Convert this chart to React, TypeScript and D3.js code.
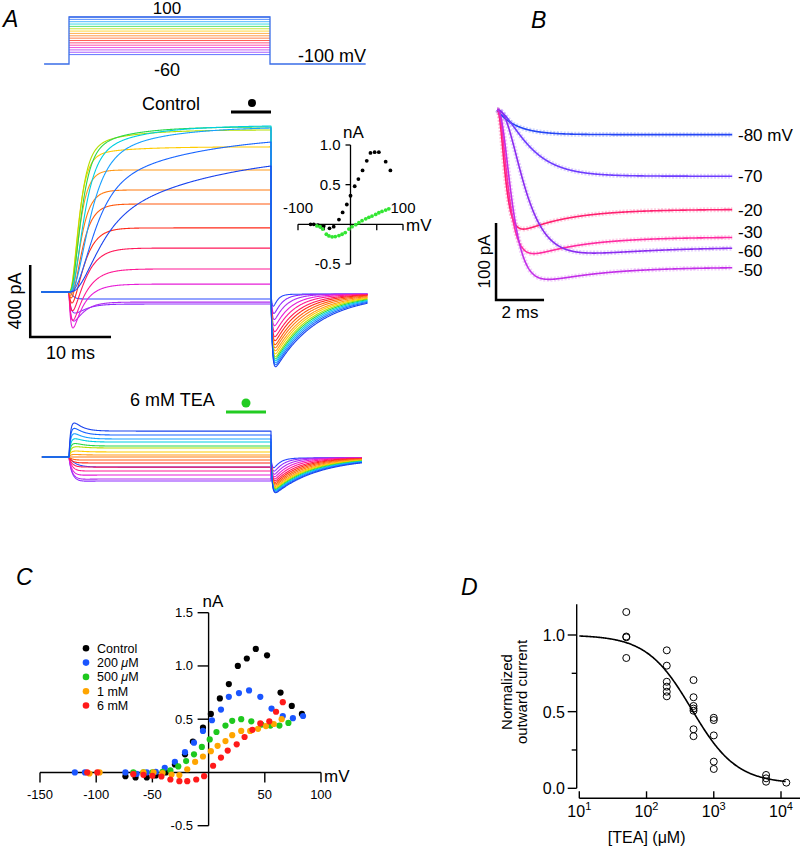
import React from 'react';
import * as d3 from 'd3';

const FONT = "'Liberation Sans', Arial, Helvetica, sans-serif";

// ---------------- Panel A : protocol + traces ----------------
const stepVoltages = [-60, -50, -40, -30, -20, -10, 0, 10, 20, 30, 40, 50, 60, 70, 80, 90, 100];
const stepColors = ['#2a48ff', '#8f2cff', '#b02cf0', '#e61fd8', '#ff1a96', '#ff1a5a', '#ff2a1a', '#ff5a10', '#ff7a10', '#ff9a1a', '#ffcc00', '#b4e000', '#2ad84a', '#00cfe0', '#18a0ff', '#1a66ff', '#1a44ee'];

// control: steady current at end of step (pA), kinetics (ms)
const ctrlSS = [-39, -67, -56, 44, 128, 244, 356, 489, 567, 678, 806, 900, 917, 922, 911, 833, 700];
const ctrlSlowFrac = [0, 0, 0, 0, 0, 0, 0, 0, 0, 0, 0.08, 0.15, 0.2, 0.25, 0.3, 0.4, 0.6];
const ctrlTauFast = [0.3, 0.6, 0.6, 1.8, 1.6, 1.4, 1.2, 1.0, 0.9, 0.8, 0.75, 0.8, 0.9, 1.1, 1.5, 1.8, 2.0];
const ctrlTauSlow = [6, 6, 6, 6, 6, 6, 6, 6, 6, 6, 5, 5, 5, 6, 7, 12, 14];
const ctrlTransient = [0, 100, 150, 200, 160, 110, 70, 45, 30, 15, 0, 0, 0, 0, 0, 0, 0];
const ctrlTailPeak = [72, 111, 144, 178, 211, 239, 261, 283, 300, 317, 333, 350, 361, 372, 383, 394, 405];
const ctrlTailTau = [0.5, 1.0, 1.5, 2.0, 2.4, 2.8, 3.1, 3.4, 3.7, 4.0, 4.2, 4.4, 4.6, 4.8, 5.0, 5.2, 5.4];

// 6 mM TEA
const teaSS = [-56, -133, -122, -100, -78, -56, -33, -17, 0, 11, 28, 50, 61, 83, 100, 122, 144];
const teaTau = [0.8, 0.5, 0.5, 0.45, 0.4, 0.4, 0.4, 0.4, 0.4, 0.4, 0.4, 0.4, 0.35, 0.35, 0.3, 0.3, 0.3];
const teaOvershoot = [0, -25, -25, -15, 0, 0, 0, 0, 0, 10, 20, 30, 45, 60, 80, 100, 120];
const teaTailPeak = [56, 75, 92, 106, 118, 128, 137, 145, 152, 159, 165, 171, 176, 181, 185, 190, 194];
const teaTailTau = [0.8, 1.2, 1.6, 2.0, 2.4, 2.8, 3.1, 3.4, 3.7, 4.0, 4.2, 4.4, 4.6, 4.8, 5.0, 5.2, 5.4];

// inset I-V (nA vs mV)
const insetCtrlV = [-76, -70, -62, -57, -51, -40, -32, -22, -15, -7, 0, 8, 15, 23, 31, 38, 46, 54, 67, 76];
const insetCtrlI = [0.0, 0.0, -0.01, -0.03, -0.02, -0.05, -0.03, 0.06, 0.15, 0.25, 0.36, 0.48, 0.57, 0.68, 0.8, 0.9, 0.91, 0.91, 0.79, 0.68];
const insetTeaV = [-64, -58, -53, -46, -41, -35, -29, -22, -16, -10, -3, 3, 10, 16, 22, 29, 35, 41, 48, 54, 60, 67, 73];
const insetTeaI = [-0.02, -0.03, -0.06, -0.125, -0.146, -0.158, -0.154, -0.142, -0.125, -0.104, -0.06, -0.03, -0.004, 0.02, 0.046, 0.07, 0.088, 0.104, 0.125, 0.146, 0.163, 0.18, 0.196];

// ---------------- Panel B : fits ----------------
const bLabels = ['-80 mV', '-70', '-20', '-30', '-60', '-50'];
const bIss = [-32, -86, -129, -165, -178, -204];
const bExtra = [0, 0, -50, -50, -40, -45];
const bTauAct = [0.8, 1.0, 0.22, 0.3, 0.75, 0.4];
const bPower = [1, 2, 3, 3, 3, 3];
const bTauInact = [1, 1, 2, 2.2, 3, 2.5];
const bColors = ['#2446f5', '#6e3cff', '#ff2070', '#ff2aa0', '#8a2cf0', '#c22ee8'];

// ---------------- Panel C : I-V ----------------
const cSeries = ['Control', '200 μM', '500 μM', '1 mM', '6 mM'];
const cColors = ['#000000', '#1a55ff', '#1ec81e', '#ffa500', '#ff1a1a'];
const ivControlV = [-74, -65, -55, -47, -38, -30, -21, -14, -5, 2, 10, 18, 26, 34, 42, 52, 64, 74, 83];
const ivControlI = [-0.035, -0.047, -0.047, -0.028, 0.0, 0.075, 0.17, 0.29, 0.42, 0.55, 0.695, 0.83, 1.0, 1.07, 1.16, 1.1, 0.75, 0.625, 0.55];
const iv200V = [-119, -110, -74, -64, -55, -47, -39, -30, -21, -13, -5, 3, 11, 18, 27, 36, 46, 56, 66, 75, 84];
const iv200I = [0, 0, 0, -0.013, 0, 0.006, 0.044, 0.1, 0.19, 0.28, 0.39, 0.49, 0.59, 0.71, 0.745, 0.77, 0.71, 0.6, 0.53, 0.51, 0.53];
const iv500V = [-67, -58, -50, -41, -34, -27, -20, -13, -6, 1, 7, 15, 21, 29, 38, 47, 55, 63, 71];
const iv500I = [0, 0, 0, 0.006, 0.019, 0.057, 0.107, 0.17, 0.24, 0.31, 0.38, 0.44, 0.485, 0.5, 0.48, 0.45, 0.44, 0.44, 0.465];
const iv1mV = [-106, -97, -58, -49, -41, -33, -26, -19, -12, -5, 2, 8, 15, 21, 29, 37, 44, 51, 58, 65];
const iv1mI = [-0.01, 0, 0, 0, -0.006, -0.02, -0.025, 0.03, 0.1, 0.15, 0.2, 0.25, 0.295, 0.35, 0.39, 0.39, 0.41, 0.435, 0.455, 0.5];
const iv6mV = [-108, -99, -67, -58, -50, -42, -34, -26, -19, -11, -4, 4, 11, 17, 25, 32, 39, 46, 54, 60, 66];
const iv6mI = [0, 0, -0.016, -0.022, -0.031, -0.038, -0.066, -0.082, -0.082, -0.066, -0.035, 0.063, 0.14, 0.205, 0.264, 0.333, 0.4, 0.46, 0.48, 0.57, 0.66];
const cXTicks = [-150, -100, -50, 0, 50, 100];
const cYTicks = [-0.5, 0, 0.5, 1.0, 1.5];

// ---------------- Panel D : dose-response ----------------
const doseConc = [50, 50, 50, 50, 200, 200, 200, 200, 200, 200, 500, 500, 500, 500, 500, 500, 500, 1000, 1000, 1000, 1000, 1000, 6000, 6000, 6000, 12000];
const doseValue = [1.15, 0.99, 0.985, 0.85, 0.9, 0.8, 0.695, 0.663, 0.63, 0.6, 0.706, 0.594, 0.537, 0.52, 0.506, 0.385, 0.34, 0.46, 0.445, 0.345, 0.174, 0.126, 0.087, 0.065, 0.043, 0.037];
const hillIC50 = 470;
const hillN = 1.3;
const hillBottom = 0.03;
const dXTicks = [10, 100, 1000, 10000];
const dYMajor = [0, 0.5, 1.0];
const dYMinor = [0.25, 0.75];

// ---------------- helpers ----------------
function biexpNorm(u: number, tau: number, rise: number) {
  const f = (x: number) => Math.exp(-x / tau) - Math.exp(-x / rise);
  const tp = (Math.log(tau / rise) * tau * rise) / (tau - rise);
  return f(u) / f(tp);
}

function ctrlI(i: number, t: number) {
  if (t <= 0) return 0;
  if (t <= 25) {
    const act = Math.pow(1 - Math.exp(-t / ctrlTauFast[i]), 3);
    const ts = ctrlTauSlow[i];
    const slow = (1 - Math.exp(-t / ts)) / (1 - Math.exp(-25 / ts));
    const w = ctrlSlowFrac[i];
    const out = ctrlSS[i] * ((1 - w) * act + w * slow * act);
    const inw = ctrlTransient[i] > 0 ? -ctrlTransient[i] * biexpNorm(t, 1.2, 0.25) : 0;
    return out + inw;
  }
  const u = t - 25;
  return -ctrlTailPeak[i] * biexpNorm(u, ctrlTailTau[i], 0.15) - 12 * (1 - Math.exp(-u / 0.3));
}

function teaI(i: number, t: number) {
  if (t <= 0) return 0;
  if (t <= 25) {
    return teaSS[i] * (1 - Math.exp(-t / teaTau[i])) + teaOvershoot[i] * (Math.exp(-t / 1.0) - Math.exp(-t / 0.15));
  }
  const u = t - 25;
  return -teaTailPeak[i] * biexpNorm(u, teaTailTau[i], 0.15) - 5 * (1 - Math.exp(-u / 0.3));
}

function timeGrid(t0: number, t1: number) {
  return [
    ...d3.range(t0, 0, 0.1),
    ...d3.range(0, 25.0001, 0.05),
    ...d3.range(25.001, t1, 0.05),
  ];
}

// ---------------- Panel A component ----------------
function PanelA() {
  const xProt = d3.scaleLinear().domain([0, 25]).range([69, 270]);
  const yProt = d3.scaleLinear().domain([-100, 100]).range([64, 17]);
  const outline = `M${xProt(-3.1)},${yProt(-100)}H${xProt(0)}V${yProt(100)}H${xProt(25)}V${yProt(-100)}H${xProt(36.9)}`;

  const tA = d3.scaleLinear().domain([0, 25]).range([69, 271]);
  const yCtrl = d3.scaleLinear().domain([0, 400]).range([292, 220]);
  const yTea = d3.scaleLinear().domain([0, 400]).range([457, 385]);

  const gridC = timeGrid(-3.45, 37);
  const gridT = timeGrid(-3.35, 36.3);

  const lineC = (i: number) =>
    d3.line<number>().x((t) => tA(t)).y((t) => yCtrl(ctrlI(i, t)))(gridC) || '';
  const lineT = (i: number) =>
    d3.line<number>().x((t) => tA(t)).y((t) => yTea(teaI(i, t)))(gridT) || '';

  // inset
  const xi = d3.scaleLinear().domain([-100, 100]).range([298, 403]);
  const yi = d3.scaleLinear().domain([-0.5, 1.0]).range([264, 145]);

  const barX = tA(-4.8);
  const barY = yCtrl(-250);

  return (
    <g>
      <text x={3} y={27} fontSize={23} fontStyle="italic">A</text>
      {/* protocol */}
      {stepVoltages.map((v, i) => (
        <line key={v} x1={xProt(0)} x2={xProt(25)} y1={yProt(v)} y2={yProt(v)} stroke={stepColors[i]} strokeWidth={1} opacity={0.75} />
      ))}
      <path d={outline} fill="none" stroke="#3a6ee8" strokeWidth={1.3} />
      <text x={167} y={14} fontSize={17} textAnchor="middle">100</text>
      <text x={167} y={76} fontSize={18} textAnchor="middle">-60</text>
      <text x={298} y={61.5} fontSize={18}>-100 mV</text>

      {/* control */}
      <text x={142} y={110} fontSize={18}>Control</text>
      <line x1={231} x2={271} y1={112} y2={112} stroke="#000" strokeWidth={3} />
      <circle cx={252} cy={103} r={4} fill="#000" />
      {stepVoltages.map((v, i) => (
        <path key={v} d={lineC(i)} fill="none" stroke={stepColors[i]} strokeWidth={1.1} strokeLinejoin="round" />
      ))}
      {/* scale bar */}
      <path d={`M${barX},${barY - (yCtrl(0) - yCtrl(400))}V${barY}H${barX + (tA(10) - tA(0))}`} fill="none" stroke="#000" strokeWidth={2.5} />
      <text transform={`translate(${barX - 9},${barY - (yCtrl(0) - yCtrl(400)) / 2}) rotate(-90)`} fontSize={18} textAnchor="middle">400 pA</text>
      <text x={barX + (tA(10) - tA(0)) / 2} y={barY + 22} fontSize={18} textAnchor="middle">10 ms</text>

      {/* TEA */}
      <text x={130} y={406} fontSize={18}>6 mM TEA</text>
      <line x1={226} x2={266} y1={412} y2={412} stroke="#22cc22" strokeWidth={3} />
      <circle cx={246} cy={403} r={4.5} fill="#22cc22" />
      {stepVoltages.map((v, i) => (
        <path key={v} d={lineT(i)} fill="none" stroke={stepColors[i]} strokeWidth={1.1} strokeLinejoin="round" />
      ))}

      {/* inset IV */}
      <line x1={xi(0)} x2={xi(0)} y1={yi(-0.5)} y2={yi(1.0)} stroke="#000" strokeWidth={1.3} />
      <line x1={xi(-100)} x2={xi(100)} y1={yi(0)} y2={yi(0)} stroke="#000" strokeWidth={1.3} />
      {[1.0, 0.5, -0.5].map((v) => (
        <g key={v}>
          <line x1={xi(0) - 5} x2={xi(0)} y1={yi(v)} y2={yi(v)} stroke="#000" strokeWidth={1.3} />
          <text x={xi(0) - 10} y={yi(v) + 5} fontSize={15} textAnchor="end">{v.toFixed(1)}</text>
        </g>
      ))}
      {[-100, -50, 50, 100].map((v) => (
        <line key={v} x1={xi(v)} x2={xi(v)} y1={yi(0)} y2={yi(0) + 6} stroke="#000" strokeWidth={1.3} />
      ))}
      <text x={xi(-100)} y={213} fontSize={15} textAnchor="middle">-100</text>
      <text x={xi(100)} y={213} fontSize={15} textAnchor="middle">100</text>
      <text x={xi(0) + 3} y={138} fontSize={17} textAnchor="middle">nA</text>
      <text x={xi(100) + 3} y={231} fontSize={17}>mV</text>
      {insetCtrlV.map((v, k) => (
        <circle key={'c' + k} cx={xi(v)} cy={yi(insetCtrlI[k])} r={1.9} fill="#000" />
      ))}
      {insetTeaV.map((v, k) => (
        <circle key={'t' + k} cx={xi(v)} cy={yi(insetTeaI[k])} r={1.9} fill="#33e633" />
      ))}
    </g>
  );
}

// ---------------- Panel B component ----------------
function PanelB() {
  const tB = d3.scaleLinear().domain([0, 2]).range([497, 545]);
  const yB = d3.scaleLinear().domain([0, -100]).range([110, 187]);
  const times = d3.range(0, 9.8001, 0.02);
  const fit = (i: number, t: number) =>
    Math.pow(1 - Math.exp(-t / bTauAct[i]), bPower[i]) * (bIss[i] + bExtra[i] * Math.exp(-t / bTauInact[i]));
  const paths = bLabels.map((_, i) => d3.line<number>().x((t) => tB(t)).y((t) => yB(fit(i, t)))(times) || '');

  // label positions: end value, relaxed to avoid overlap
  const ends = bLabels.map((_, i) => yB(fit(i, 9.8)));
  const order = d3.range(bLabels.length).sort((a, b) => ends[a] - ends[b]);
  const pos = order.map((k) => ends[k]);
  for (let it = 0; it < 60; it++) {
    for (let j = 1; j < pos.length; j++) {
      const gap = pos[j] - pos[j - 1];
      if (gap < 19) {
        const d = (19 - gap) / 2;
        pos[j - 1] -= d;
        pos[j] += d;
      }
    }
  }
  const labelY: number[] = [];
  order.forEach((k, j) => (labelY[k] = pos[j]));

  const bx = tB(-0.04);
  const by = 300;
  return (
    <g>
      <text x={531} y={28} fontSize={23} fontStyle="italic">B</text>
      {paths.map((d, i) => (
        <path key={'n' + i} d={d} fill="none" stroke={bColors[i]} strokeWidth={5} opacity={0.22} strokeDasharray="2 1.5" />
      ))}
      {paths.map((d, i) => (
        <path key={'f' + i} d={d} fill="none" stroke={bColors[i]} strokeWidth={1.6} />
      ))}
      {bLabels.map((l, i) => (
        <text key={l} x={738} y={labelY[i] + 6} fontSize={17}>{l}</text>
      ))}
      <path d={`M${bx},${by - (yB(-100) - yB(0))}V${by}H${bx + (tB(2) - tB(0))}`} fill="none" stroke="#000" strokeWidth={2.5} />
      <text transform={`translate(${bx - 6},${by - (yB(-100) - yB(0)) / 2}) rotate(-90)`} fontSize={17} textAnchor="middle">100 pA</text>
      <text x={bx + (tB(2) - tB(0)) / 2} y={by + 18} fontSize={17} textAnchor="middle">2 ms</text>
    </g>
  );
}

// ---------------- Panel C component ----------------
function PanelC() {
  const x = d3.scaleLinear().domain([-150, 100]).range([40, 321]);
  const y = d3.scaleLinear().domain([-0.5, 1.5]).range([825.7, 612.7]);
  const series = [
    [ivControlV, ivControlI],
    [iv200V, iv200I],
    [iv500V, iv500I],
    [iv1mV, iv1mI],
    [iv6mV, iv6mI],
  ];
  return (
    <g>
      <text x={16} y={585} fontSize={23} fontStyle="italic">C</text>
      <line x1={x(-150)} x2={x(100)} y1={y(0)} y2={y(0)} stroke="#000" strokeWidth={1.4} />
      <line x1={x(0)} x2={x(0)} y1={y(-0.5)} y2={y(1.5)} stroke="#000" strokeWidth={1.4} />
      {cXTicks.filter((v) => v !== 0).map((v) => (
        <g key={v}>
          <line x1={x(v)} x2={x(v)} y1={y(0)} y2={y(0) + 10} stroke="#000" strokeWidth={1.4} />
          <text x={x(v)} y={799} fontSize={13} textAnchor="middle">{v}</text>
        </g>
      ))}
      {cYTicks.filter((v) => v !== 0).map((v) => (
        <g key={v}>
          <line x1={x(0) - 11} x2={x(0)} y1={y(v)} y2={y(v)} stroke="#000" strokeWidth={1.4} />
          <text x={193} y={y(v) + 4.5} fontSize={13} textAnchor="end">{v.toFixed(1)}</text>
        </g>
      ))}
      <text x={213} y={607} fontSize={17} textAnchor="middle">nA</text>
      <text x={324} y={782} fontSize={17}>mV</text>
      {series.map(([vs, is], s) =>
        vs.map((v, k) => <circle key={s + '-' + k} cx={x(v)} cy={y(is[k])} r={3.1} fill={cColors[s]} />)
      )}
      {cSeries.map((name, s) => {
        const ly = 648.3 + s * 14.3;
        const parts = name.split('μ');
        return (
          <g key={name}>
            <circle cx={86} cy={ly} r={3.3} fill={cColors[s]} />
            <text x={97} y={ly + 4.5} fontSize={12.5}>
              {parts.length > 1 ? (
                <>
                  {parts[0]}
                  <tspan fontStyle="italic">μ</tspan>
                  {parts[1]}
                </>
              ) : (
                name
              )}
            </text>
          </g>
        );
      })}
    </g>
  );
}

// ---------------- Panel D component ----------------
function PanelD() {
  const x = d3.scaleLog().domain([10, 10000]).range([579.3, 781]);
  const y = d3.scaleLinear().domain([0, 1]).range([788.3, 635]);
  const hill = (c: number) => hillBottom + (1 - hillBottom) / (1 + Math.pow(c / hillIC50, hillN));
  const cs = d3.range(1, 4.08, 0.01).map((e) => Math.pow(10, e));
  const curve = d3.line<number>().x((c) => x(c)).y((c) => y(hill(c)))(cs) || '';
  const axX = 576.7;
  const axY = 798.3;
  return (
    <g>
      <text x={461} y={595} fontSize={23} fontStyle="italic">D</text>
      <line x1={axX} x2={axX} y1={y(1.2)} y2={y(0)} stroke="#000" strokeWidth={1.4} />
      {dYMajor.map((v) => (
        <g key={v}>
          <line x1={axX - 9} x2={axX} y1={y(v)} y2={y(v)} stroke="#000" strokeWidth={1.4} />
          <text x={565} y={y(v) + 6} fontSize={16} textAnchor="end">{v.toFixed(1)}</text>
        </g>
      ))}
      {dYMinor.map((v) => (
        <line key={v} x1={axX - 5} x2={axX} y1={y(v)} y2={y(v)} stroke="#000" strokeWidth={1.4} />
      ))}
      <line x1={x(10)} x2={800} y1={axY} y2={axY} stroke="#000" strokeWidth={1.4} />
      {dXTicks.map((v) => (
        <g key={v}>
          <line x1={x(v)} x2={x(v)} y1={axY} y2={axY - 7} stroke="#000" strokeWidth={1.4} />
          <text x={x(v)} y={817} fontSize={16} textAnchor="middle">
            10<tspan dy={-7} fontSize={11}>{Math.round(Math.log10(v))}</tspan>
          </text>
        </g>
      ))}
      <text x={646.7} y={843} fontSize={16} textAnchor="middle">[TEA] (μM)</text>
      <text transform="translate(512,692) rotate(-90)" fontSize={15} textAnchor="middle">
        <tspan x={0} dy={0}>Normalized</tspan>
        <tspan x={0} dy={15}>outward current</tspan>
      </text>
      <path d={curve} fill="none" stroke="#000" strokeWidth={1.6} />
      {doseConc.map((c, k) => (
        <circle key={k} cx={x(c)} cy={y(doseValue[k])} r={3.5} fill="none" stroke="#000" strokeWidth={1} />
      ))}
    </g>
  );
}

export default function App() {
  return (
    <svg width={800} height={850} style={{ position: 'absolute', left: 0, top: 0, background: '#fff' }} fontFamily={FONT}>
      <rect width={800} height={850} fill="#fff" />
      <PanelA />
      <PanelB />
      <PanelC />
      <PanelD />
    </svg>
  );
}
